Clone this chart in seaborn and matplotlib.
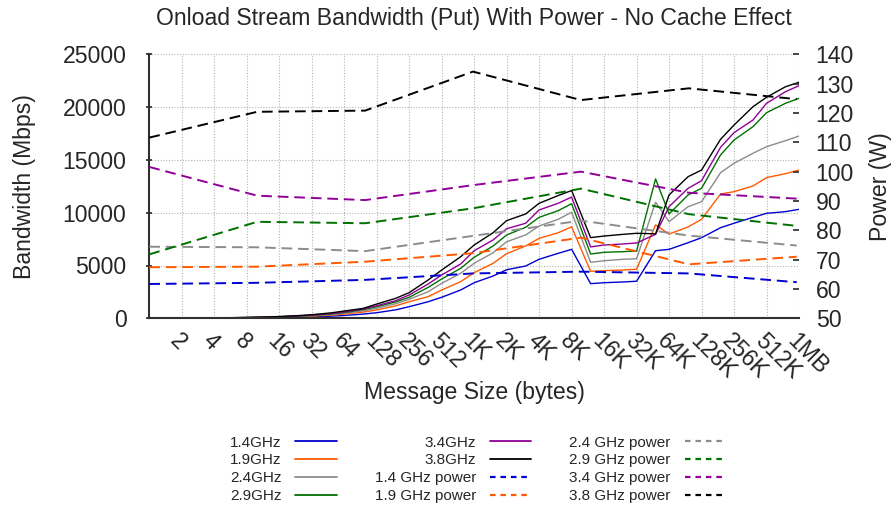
import matplotlib
matplotlib.use("Agg")
import matplotlib.pyplot as plt
from matplotlib.lines import Line2D
import seaborn as sns
import pandas as pd

sns.set_theme(style="white")
plt.rcParams['font.family'] = ['Liberation Sans', 'DejaVu Sans']

# ---------------- data ----------------
sizes = [1, 2, 3, 4, 6, 8, 12, 16, 24, 32, 48, 64, 96, 128, 192, 256, 384, 512, 768,
         1024, 1536, 2048, 3072, 4096, 6144, 8192, 12288, 16384, 24576, 32768, 49152,
         65536, 98304, 131072, 196608, 262144, 393216, 524288, 786432, 1048576]

bw_14 = [4, 8, 12.5, 17, 25, 33, 50, 66, 100, 133, 200, 265, 400, 530, 800, 1100, 1570, 1990, 2680,
         3370, 4010, 4600, 4950, 5590, 6150, 6530, 3280, 3370, 3440, 3510, 6400,
         6530, 7160, 7630, 8580, 9000, 9560, 9940, 10100, 10320]
bw_19 = [6, 12.5, 19, 25, 37, 50, 75, 100, 150, 200, 300, 400, 590, 790, 1180, 1570, 2050, 2680, 3470,
         4320, 5210, 6120, 6850, 7570, 8100, 8660, 4450, 4510, 4570, 4650, 8850,
         7980, 8650, 9370, 11770, 11990, 12530, 13320, 13700, 14040]
bw_24 = [7.5, 15, 22, 30, 45, 60, 90, 120, 180, 240, 360, 480, 710, 950, 1380, 1800, 2520, 3310, 4260,
         5210, 6210, 7250, 7890, 8740, 9370, 10050, 5300, 5450, 5590, 5640, 11000,
         9150, 10570, 11040, 13790, 14680, 15630, 16250, 16820, 17260]
bw_29 = [8.5, 17, 26, 34, 52, 69, 103, 138, 207, 275, 410, 550, 820, 1100, 1550, 1990, 2930, 3720, 4730,
         5780, 6850, 7890, 8620, 9560, 10190, 10850, 6090, 6250, 6310, 6370, 13200,
         9880, 11680, 12310, 15470, 16880, 18150, 19470, 20360, 20830]
bw_34 = [9, 18, 28, 37, 56, 75, 112, 150, 225, 300, 450, 600, 880, 1190, 1670, 2210, 3250, 4100, 5140,
         6400, 7420, 8480, 9000, 10260, 10890, 11480, 6760, 6940, 7040, 7130, 7950,
         10570, 12310, 13030, 16190, 17580, 18780, 20360, 21460, 22030]
bw_38 = [10, 21, 31, 42, 63, 85, 127, 170, 255, 340, 510, 690, 940, 1350, 1890, 2430, 3630, 4570, 5830,
         6940, 8110, 9250, 9880, 10890, 11620, 12100, 7640, 7790, 7950, 8050, 8000,
         11680, 13410, 14040, 16950, 18300, 20040, 20930, 21930, 22350]

power_sizes = [1, 10, 100, 1000, 10000, 100000, 1000000]
pw_14 = [61.7, 62.1, 63.1, 65.3, 65.9, 65.3, 62.3]
pw_19 = [67.4, 67.6, 69.3, 72.2, 77.5, 68.4, 71.0]
pw_24 = [74.4, 74.2, 72.9, 78.1, 83.3, 78.2, 74.8]
pw_29 = [71.8, 82.9, 82.4, 87.5, 94.2, 85.5, 81.5]
pw_34 = [101.6, 91.8, 90.3, 95.4, 100.0, 92.8, 90.8]
pw_38 = [111.6, 120.4, 120.8, 134.1, 124.4, 128.4, 124.7]

tick_labels = ['2', '4', '8', '16', '32', '64', '128', '256', '512', '1K', '2K', '4K', '8K',
               '16K', '32K', '64K', '128K', '256K', '512K', '1MB']

bw_series = [("1.4GHz", bw_14), ("1.9GHz", bw_19), ("2.4GHz", bw_24),
             ("2.9GHz", bw_29), ("3.4GHz", bw_34), ("3.8GHz", bw_38)]
pw_series = [("1.4 GHz power", pw_14), ("1.9 GHz power", pw_19), ("2.4 GHz power", pw_24),
             ("2.9 GHz power", pw_29), ("3.4 GHz power", pw_34), ("3.8 GHz power", pw_38)]
colors = ['#0000d0', '#ff5a00', '#8c8c8c', '#007000', '#900098', '#000000']

FS = 16.6

# ---------------- figure ----------------
fig = plt.figure(figsize=(8.96, 5.07), dpi=100)
ax = fig.add_axes([149.3 / 896, 1 - 318.3 / 507, (799 - 149.3) / 896, (318.3 - 54.3) / 507])
ax2 = ax.twinx()

for (name, vals), c in zip(bw_series, colors):
    df = pd.DataFrame({"size": sizes, "bw": vals})
    sns.lineplot(data=df, x="size", y="bw", ax=ax, color=c, lw=1.0, legend=False)

for (name, vals), c in zip(pw_series, colors):
    df = pd.DataFrame({"size": power_sizes, "p": vals})
    sns.lineplot(data=df, x="size", y="p", ax=ax2, color=c, lw=1.4,
                 linestyle=(0, (5.5, 3.0)), legend=False)

for a in (ax, ax2):
    a.set_xscale('log', base=2)
    a.set_xlim(1, 2 ** 20)

ax.set_ylim(0, 25000)
ax.set_yticks([0, 5000, 10000, 15000, 20000, 25000])
ax2.set_ylim(50, 140)
ax2.set_yticks(list(range(50, 141, 10)))

ax.set_xticks([2 ** k for k in range(1, 21)])
ax.xaxis.set_minor_locator(matplotlib.ticker.NullLocator())
ax.set_xticklabels(tick_labels, rotation=-45, ha='left', va='top', rotation_mode='anchor')

ax.grid(True, color='#b4b4b4', linestyle=(0, (1, 1.5)), linewidth=0.8)
ax.set_axisbelow(True)

for s in ['top', 'right']:
    ax.spines[s].set_visible(False)
for s in ['left', 'bottom']:
    ax.spines[s].set_color('#303030')
    ax.spines[s].set_linewidth(1.5)
for s in ax2.spines.values():
    s.set_visible(False)

ax.tick_params(axis='y', direction='inout', length=5, color='#303030', labelsize=FS, pad=14)
ax.tick_params(axis='x', direction='in', length=0, labelsize=FS, pad=8)
ax2.tick_params(axis='y', direction='in', length=4, color='#303030', labelsize=FS, pad=12)

ax.set_xlabel("Message Size (bytes)", fontsize=FS)
ax.set_ylabel("Bandwidth (Mbps)", fontsize=FS)
ax2.set_ylabel("Power (W)", fontsize=FS)
ax.xaxis.set_label_coords(0.5, (318.3 - 393) / 264)
ax.xaxis.label.set_va('center')
ax.yaxis.set_label_coords((25 - 149.3) / 649.7, 0.5)
ax.yaxis.label.set_va('center')
ax2.yaxis.set_label_coords((881 - 149.3) / 649.7, 0.5)
ax2.yaxis.label.set_va('center')

fig.text(474 / 896, 1 - 18 / 507, "Onload Stream Bandwidth (Put) With Power - No Cache Effect",
         ha='center', va='center', fontsize=FS)

handles = []
labels = []
for (name, _), c in zip(bw_series, colors):
    handles.append(Line2D([], [], color=c, lw=1.3))
    labels.append(name)
for (name, _), c in zip(pw_series, colors):
    handles.append(Line2D([], [], color=c, lw=1.6, linestyle=(0, (2.5, 2.2))))
    labels.append(name)

fig.legend(handles, labels, ncol=3, loc='upper center',
           bbox_to_anchor=(478 / 896, 1 - 428 / 507), frameon=False, markerfirst=False,
           fontsize=11, handlelength=2.7, handletextpad=0.9, columnspacing=2.5,
           labelspacing=0.25, borderpad=0)

fig.savefig("out.png", dpi=100)
